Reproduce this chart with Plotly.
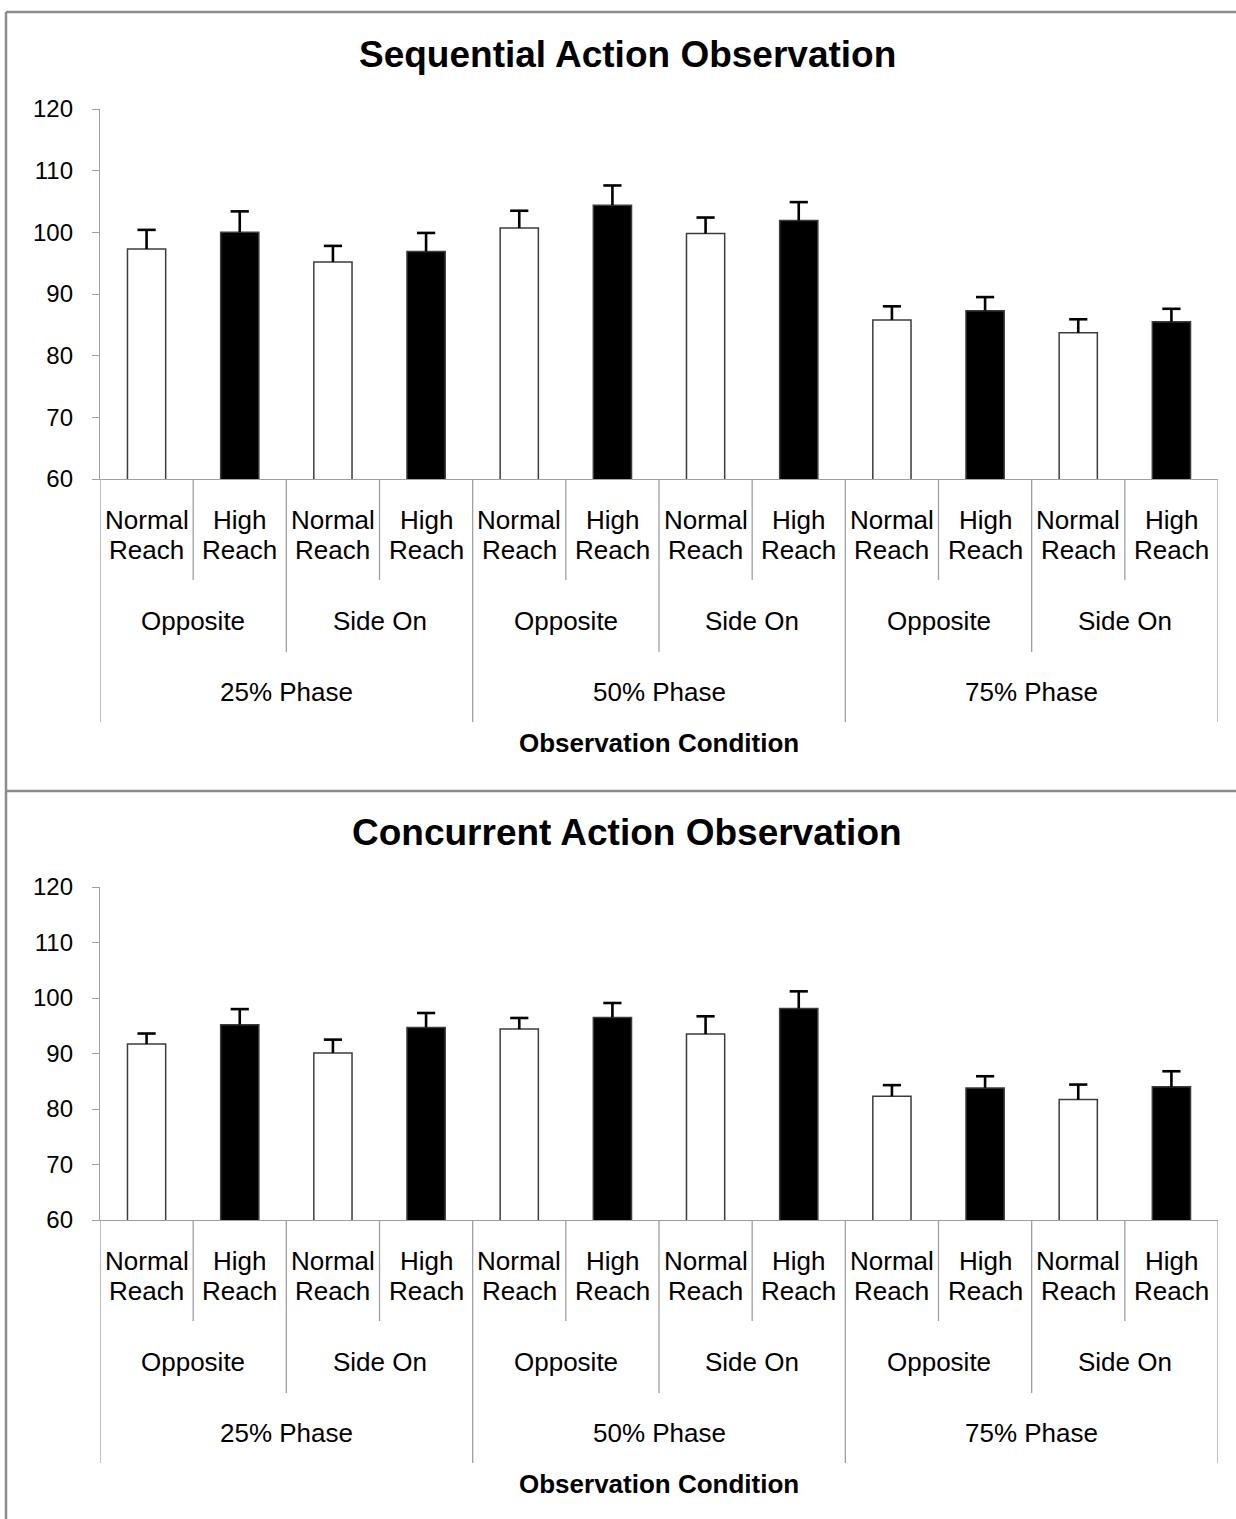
import plotly.graph_objects as go

# ---------------- data ----------------
phases = ["25% Phase", "50% Phase", "75% Phase"]
views = ["Opposite", "Side On"]
reaches = ["Normal Reach", "High Reach"]
y_ticks = [60, 70, 80, 90, 100, 110, 120]

seq_means = [97.3, 100.0, 95.2, 96.9, 100.7, 104.4, 99.8, 101.9, 85.8, 87.3, 83.7, 85.5]
seq_err = [3.1, 3.4, 2.6, 3.0, 2.8, 3.2, 2.6, 3.0, 2.2, 2.2, 2.2, 2.1]
conc_means = [91.7, 95.2, 90.1, 94.7, 94.4, 96.5, 93.5, 98.1, 82.3, 83.8, 81.7, 84.0]
conc_err = [1.9, 2.8, 2.4, 2.6, 2.0, 2.6, 3.2, 3.1, 2.0, 2.1, 2.7, 2.8]

titles = ["Sequential Action Observation", "Concurrent Action Observation"]
x_title = "Observation Condition"

# ---------------- layout helpers ----------------
W, H = 1236, 1519
FONT = "Liberation Sans, Arial, Helvetica, sans-serif"


def px(x):
    return x / W


def py(y):
    return 1 - y / H


# category list (phase, view, reach)
cats = [(p, v, r) for p in phases for v in views for r in reaches]
n = len(cats)
xs = list(range(n))
bar_colors = ["white" if c[2] == reaches[0] else "black" for c in cats]

panels = [
    dict(means=seq_means, err=seq_err, title=titles[0], top=109, bottom=479, title_y=55),
    dict(means=conc_means, err=conc_err, title=titles[1], top=887, bottom=1220, title_y=833),
]

fig = go.Figure()
annotations = []
shapes = []

for i, p in enumerate(panels):
    xa = "x" if i == 0 else "x2"
    ya = "y" if i == 0 else "y2"
    means, err = p["means"], p["err"]
    fig.add_trace(go.Bar(
        x=xs, y=means,
        xaxis=xa, yaxis=ya,
        width=0.41,
        marker=dict(color=bar_colors, line=dict(color="#3c3c3c", width=1.5)),
        showlegend=False, hoverinfo="skip",
    ))
    # upper error bars (stem from bar top to mean+err, cap at the top)
    ex, ey = [], []
    for j in range(n):
        ex += [xs[j], xs[j], None]
        ey += [means[j], means[j] + err[j], None]
    fig.add_trace(go.Scatter(
        x=ex, y=ey, xaxis=xa, yaxis=ya, mode="lines",
        line=dict(color="black", width=2.6), showlegend=False, hoverinfo="skip",
    ))
    fig.add_trace(go.Scatter(
        x=xs, y=[m + e for m, e in zip(means, err)], xaxis=xa, yaxis=ya,
        mode="markers",
        marker=dict(symbol="line-ew", size=13, line=dict(color="black", width=2.6)),
        showlegend=False, hoverinfo="skip",
    ))
    key = "" if i == 0 else "2"
    fig.update_layout(**{
        "xaxis" + key: dict(domain=[px(100), px(1218)], range=[-0.5, n - 0.5],
                            showticklabels=False, ticks="", showgrid=False, zeroline=False,
                            showline=True, linecolor="#a0a0a0", linewidth=1.3,
                            anchor=ya, fixedrange=True),
        "yaxis" + key: dict(domain=[py(p["bottom"]), py(p["top"])], range=[60, 120],
                            tickvals=y_ticks, ticks="outside", ticklen=7,
                            tickcolor="#a0a0a0", tickwidth=1.3,
                            showline=True, linecolor="#a0a0a0", linewidth=1.3,
                            showgrid=False, zeroline=False, ticklabelstandoff=14,
                            tickfont=dict(family=FONT, size=24, color="black"),
                            anchor=xa, fixedrange=True),
    })

    b = p["bottom"]
    # divider lines below the axis
    for k in range(n + 1):
        xpos = k - 0.5
        if k % 4 == 0:
            depth = 243
        elif k % 2 == 0:
            depth = 173
        else:
            depth = 101
        shapes.append(dict(type="line", xref=xa, yref="paper", x0=xpos, x1=xpos,
                           y0=py(b), y1=py(b + depth),
                           line=dict(color="#a0a0a0", width=1.3)))

    # tier-1 labels (reach, two lines)
    for j, c in enumerate(cats):
        first, second = c[2].split(" ")
        annotations.append(dict(x=j, xref=xa, y=py(b + 41), yref="paper", text=first,
                                showarrow=False, xanchor="center", yanchor="middle",
                                font=dict(family=FONT, size=26, color="black")))
        annotations.append(dict(x=j, xref=xa, y=py(b + 71), yref="paper", text=second,
                                showarrow=False, xanchor="center", yanchor="middle",
                                font=dict(family=FONT, size=26, color="black")))
    # tier-2 labels (view)
    for j in range(n // 2):
        annotations.append(dict(x=2 * j + 0.5, xref=xa, y=py(b + 142), yref="paper",
                                text=views[j % 2], showarrow=False,
                                xanchor="center", yanchor="middle",
                                font=dict(family=FONT, size=26, color="black")))
    # tier-3 labels (phase)
    for j, ph in enumerate(phases):
        annotations.append(dict(x=4 * j + 1.5, xref=xa, y=py(b + 213), yref="paper",
                                text=ph, showarrow=False,
                                xanchor="center", yanchor="middle",
                                font=dict(family=FONT, size=26, color="black")))
    # axis title
    annotations.append(dict(x=px(659), xref="paper", y=py(b + 264), yref="paper",
                            text="<b>" + x_title + "</b>", showarrow=False,
                            xanchor="center", yanchor="middle",
                            font=dict(family=FONT, size=26, color="black")))
    # chart title
    annotations.append(dict(x=px(627), xref="paper", y=py(p["title_y"]), yref="paper",
                            text="<b>" + p["title"] + "</b>", showarrow=False,
                            xanchor="center", yanchor="middle",
                            font=dict(family=FONT, size=37, color="black")))

# panel borders
border = dict(color="#8c8c8c", width=2.5)
shapes.append(dict(type="line", xref="paper", yref="paper", x0=px(6), x1=1.02,
                   y0=py(12), y1=py(12), line=border))
shapes.append(dict(type="line", xref="paper", yref="paper", x0=px(6), x1=px(6),
                   y0=py(12), y1=-0.02, line=border))
shapes.append(dict(type="line", xref="paper", yref="paper", x0=px(6), x1=1.02,
                   y0=py(791), y1=py(791), line=border))

fig.update_layout(
    width=W, height=H,
    margin=dict(l=0, r=0, t=0, b=0),
    template="none",
    paper_bgcolor="white", plot_bgcolor="white",
    barmode="overlay",
    annotations=annotations,
    shapes=shapes,
    font=dict(family=FONT, color="black"),
)

fig.write_html("out.html", config={"displayModeBar": False},
               post_script="document.body.style.margin='0';document.body.style.overflow='hidden';")
